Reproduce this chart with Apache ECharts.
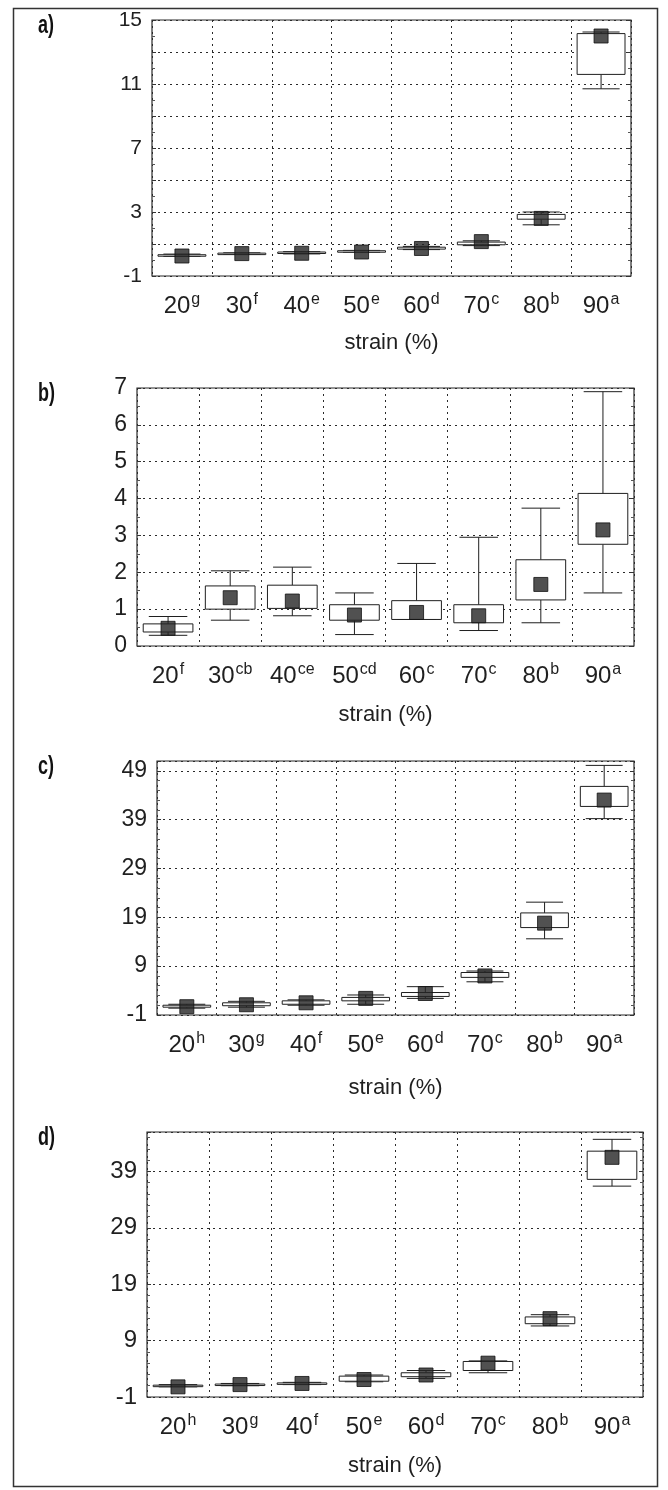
<!DOCTYPE html>
<html>
<head>
<meta charset="utf-8">
<script src="https://cdn.jsdelivr.net/npm/echarts@6/dist/echarts.min.js"></script>
<style>
  html, body { margin: 0; padding: 0; background: #fff; }
  #chart { width: 668px; height: 1490px; }
</style>
</head>
<body>
<div id="chart"></div>
<script>
// strain levels and significance letters
var strainLevels = ['20', '30', '40', '50', '60', '70', '80', '90'];
var lettersA = ['g', 'f', 'e', 'e', 'd', 'c', 'b', 'a'];
var lettersB = ['f', 'cb', 'ce', 'cd', 'c', 'c', 'b', 'a'];
var lettersC = ['h', 'g', 'f', 'e', 'd', 'c', 'b', 'a'];
var lettersD = ['h', 'g', 'f', 'e', 'd', 'c', 'b', 'a'];

// a)
var aMin  = [0.22, 0.35, 0.38, 0.48, 0.65, 0.90, 2.20, 10.70];
var aQ1   = [0.27, 0.37, 0.41, 0.50, 0.68, 0.95, 2.55, 11.60];
var aQ3   = [0.33, 0.43, 0.50, 0.58, 0.80, 1.12, 2.85, 14.15];
var aMax  = [0.37, 0.45, 0.52, 0.60, 0.85, 1.20, 3.00, 14.25];
var aMark = [0.25, 0.40, 0.42, 0.50, 0.72, 1.15, 2.60, 14.00];
var aTicks = [-1, 3, 7, 11, 15];

// b)
var bMin  = [0.29, 0.70, 0.82, 0.31, 0.72, 0.42, 0.63, 1.44];
var bQ1   = [0.38, 1.00, 1.02, 0.70, 0.72, 0.63, 1.25, 2.76];
var bQ3   = [0.60, 1.63, 1.65, 1.12, 1.23, 1.12, 2.34, 4.14];
var bMax  = [0.80, 2.04, 2.14, 1.44, 2.24, 2.95, 3.74, 6.90];
var bMark = [0.48, 1.31, 1.22, 0.84, 0.91, 0.82, 1.67, 3.15];
var bTicks = [0, 1, 2, 3, 4, 5, 6, 7];

// c)
var cMin  = [0.4, 0.6, 1.0, 1.2, 2.4, 5.8, 14.6, 39.2];
var cQ1   = [0.6, 0.9, 1.2, 1.9, 2.8, 6.7, 16.9, 41.7];
var cQ3   = [1.0, 1.5, 1.9, 2.6, 3.6, 7.7, 19.9, 45.8];
var cMax  = [1.2, 1.8, 2.1, 3.1, 4.8, 8.0, 22.1, 50.1];
var cMark = [0.7, 1.1, 1.5, 2.4, 3.4, 7.0, 17.8, 43.0];
var cTicks = [-1, 9, 19, 29, 39, 49];

// d)
var dMin  = [0.8, 1.0, 1.2, 1.7, 2.3, 3.3, 11.6, 36.4];
var dQ1   = [0.9, 1.1, 1.3, 1.8, 2.6, 3.7, 12.0, 37.6];
var dQ3   = [1.1, 1.3, 1.5, 2.7, 3.3, 5.3, 13.2, 42.6];
var dMax  = [1.2, 1.4, 1.6, 2.9, 3.7, 5.4, 13.6, 44.7];
var dMark = [0.8, 1.2, 1.4, 2.1, 2.9, 5.0, 12.9, 41.5];
var dTicks = [-1, 9, 19, 29, 39];

var FONT = '"Liberation Sans", Arial, sans-serif';
var INK = '#1f1f1f';

var panels = [
  { tag: 'a)', letters: lettersA, lo: aMin, q1: aQ1, q3: aQ3, hi: aMax, mark: aMark, ticks: aTicks,
    min: -1, max: 15, interval: 2, minor: 2, ySize: 21, nameGap: 56,
    grid: { left: 152, top: 20, width: 479, height: 256 } },
  { tag: 'b)', letters: lettersB, lo: bMin, q1: bQ1, q3: bQ3, hi: bMax, mark: bMark, ticks: bTicks,
    min: 0, max: 7, interval: 1, minor: 2, ySize: 23, nameGap: 58,
    grid: { left: 137, top: 388, width: 497, height: 258 } },
  { tag: 'c)', letters: lettersC, lo: cMin, q1: cQ1, q3: cQ3, hi: cMax, mark: cMark, ticks: cTicks,
    min: -1, max: 51, interval: 10, minor: 5, ySize: 23, nameGap: 62,
    grid: { left: 157, top: 761, width: 477, height: 254 } },
  { tag: 'd)', letters: lettersD, lo: dMin, q1: dQ1, q3: dQ3, hi: dMax, mark: dMark, ticks: dTicks,
    min: -1, max: 46, interval: 10, minor: 5, ySize: 24, nameGap: 58,
    grid: { left: 147, top: 1132, width: 496, height: 265 } }
];

function renderBox(params, api) {
  var x = api.value(0);
  var lo = api.coord([x, api.value(1)]);
  var q1 = api.coord([x, api.value(2)]);
  var q3 = api.coord([x, api.value(3)]);
  var hi = api.coord([x, api.value(4)]);
  var band = api.size([1, 0])[0];
  var bw = band * 0.8, cw = band * 0.62;
  var cx = lo[0];
  var st = { stroke: INK, lineWidth: 1, fill: null };
  return {
    type: 'group',
    children: [
      { type: 'line', shape: { x1: cx, y1: hi[1], x2: cx, y2: q3[1] }, style: st },
      { type: 'line', shape: { x1: cx, y1: q1[1], x2: cx, y2: lo[1] }, style: st },
      { type: 'line', shape: { x1: cx - cw / 2, y1: hi[1], x2: cx + cw / 2, y2: hi[1] }, style: st },
      { type: 'line', shape: { x1: cx - cw / 2, y1: lo[1], x2: cx + cw / 2, y2: lo[1] }, style: st },
      { type: 'rect', shape: { x: cx - bw / 2, y: q3[1], width: bw, height: Math.max(q1[1] - q3[1], 1.5) },
        style: { stroke: INK, lineWidth: 1, fill: '#fff' } }
    ]
  };
}

var grids = [], xAxes = [], yAxes = [], series = [], graphics = [];
var dotted = { color: '#2a2a2a', type: [2, 4], width: 1 };

panels.forEach(function (p, k) {
  grids.push(Object.assign({ show: true, borderColor: '#2a2a2a', borderWidth: 1.2, backgroundColor: '#fff' }, p.grid));

  xAxes.push({
    type: 'category', gridIndex: k, data: strainLevels, boundaryGap: true,
    axisLine: { show: false }, axisTick: { show: false, interval: 0 },
    splitLine: { show: true, interval: 0, lineStyle: dotted },
    axisLabel: {
      interval: 0, margin: 16, color: INK, fontFamily: FONT,
      formatter: function (v, i) { return '{n|' + v + '}{s|' + p.letters[i] + '}'; },
      rich: {
        n: { fontSize: 24, fontFamily: FONT, color: INK, lineHeight: 26, verticalAlign: 'bottom' },
        s: { fontSize: 16, fontFamily: FONT, color: INK, lineHeight: 26, verticalAlign: 'top', padding: [0, 0, 9, 1] }
      }
    },
    name: 'strain (%)', nameLocation: 'middle', nameGap: p.nameGap,
    nameTextStyle: { fontSize: 22, fontFamily: FONT, color: INK }
  });

  var yCommon = {
    type: 'value', gridIndex: k, min: p.min, max: p.max, interval: p.interval,
    axisLine: { show: false },
    axisTick: { show: true, inside: true, length: 4, lineStyle: { color: '#333' } },
    minorTick: { show: true, splitNumber: p.minor, length: 3, lineStyle: { color: '#555' } }
  };
  yAxes.push(Object.assign({}, yCommon, {
    position: 'left',
    splitLine: { show: true, lineStyle: dotted },
    axisLabel: {
      margin: 10, fontSize: p.ySize, fontFamily: FONT, color: INK,
      formatter: function (v) { return p.ticks.indexOf(v) >= 0 ? String(v) : ''; }
    }
  }));
  yAxes.push(Object.assign({}, yCommon, {
    position: 'right',
    splitLine: { show: false }, axisLabel: { show: false }
  }));

  series.push({
    type: 'custom', xAxisIndex: k, yAxisIndex: 2 * k,
    renderItem: renderBox, encode: { x: 0, y: [1, 2, 3, 4] },
    data: strainLevels.map(function (s, i) { return [i, p.lo[i], p.q1[i], p.q3[i], p.hi[i]]; }),
    z: 3
  });
  series.push({
    type: 'scatter', xAxisIndex: k, yAxisIndex: 2 * k,
    symbol: 'rect', symbolSize: 14,
    itemStyle: { color: '#262626', borderColor: '#111', borderWidth: 1 },
    data: strainLevels.map(function (s, i) { return [i, p.mark[i]]; }),
    z: 4
  });

  graphics.push({
    type: 'text', left: 38, top: p.grid.top - 6, scaleX: 0.72,
    style: { text: p.tag, fontSize: 25, fontWeight: 'bold', fontFamily: FONT, fill: '#111' }
  });
});

graphics.push({
  type: 'rect', left: 11, top: 6, z: -1,
  shape: { width: 644, height: 1478 },
  style: { fill: null, stroke: '#333', lineWidth: 1.5 }
});

var chart = echarts.init(document.getElementById('chart'));
chart.setOption({
  backgroundColor: '#fff',
  animation: false,
  grid: grids,
  xAxis: xAxes,
  yAxis: yAxes,
  series: series,
  graphic: graphics
});
</script>
</body>
</html>
